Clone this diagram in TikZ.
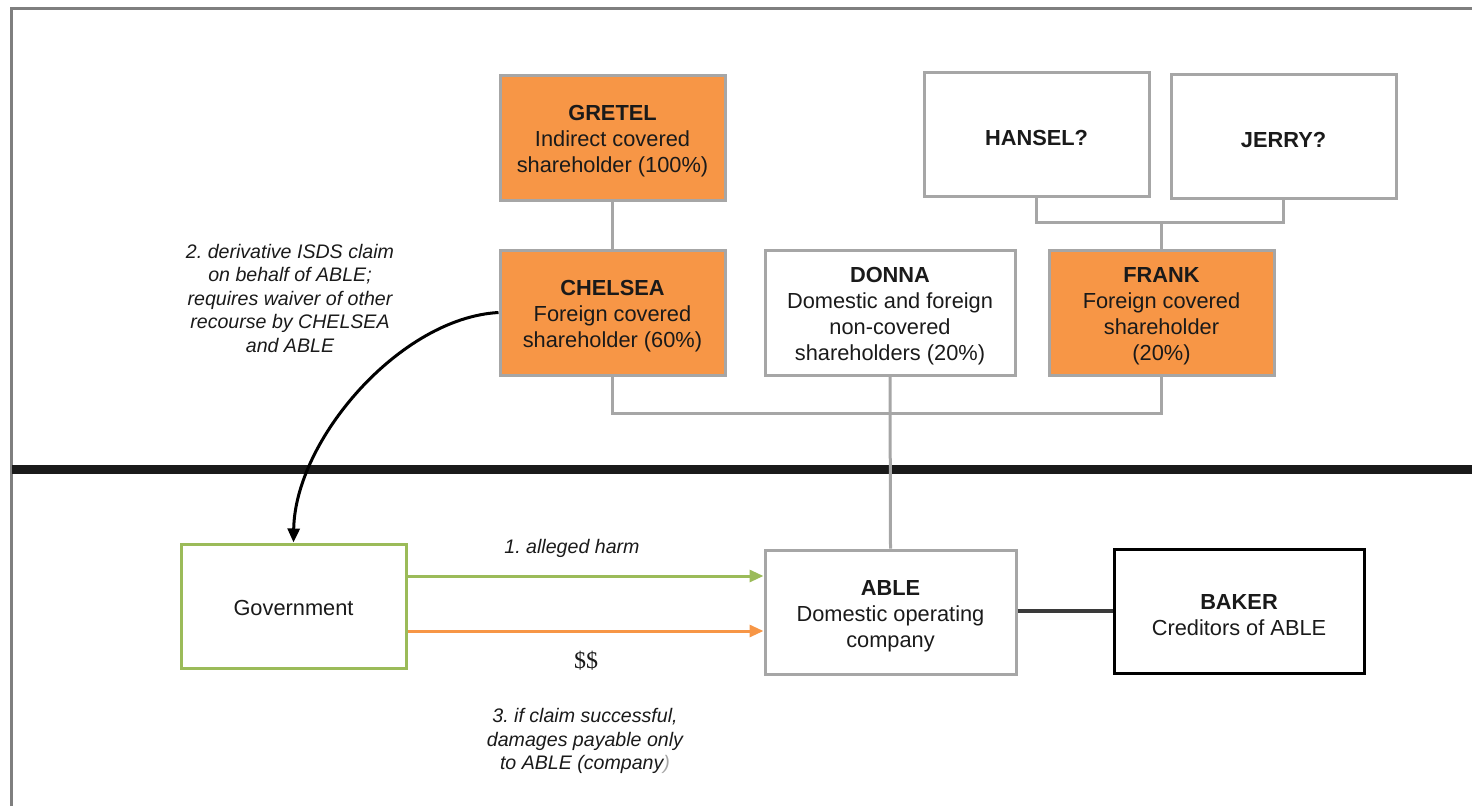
\documentclass[tikz,border=0pt]{standalone}
\usepackage{fontspec}
\setmainfont{Liberation Sans}
\newfontfamily\dollarfont{Liberation Serif}
\usetikzlibrary{arrows.meta}
\frenchspacing
\newcommand\toppad{\rule{0pt}{23.5pt}}
\definecolor{orfill}{HTML}{F79646}
\definecolor{bgray}{HTML}{A6A6A6}
\definecolor{fgray}{HTML}{7F7F7F}
\definecolor{ogreen}{HTML}{9BBB59}
\definecolor{txt}{HTML}{1A1A1A}
\definecolor{barblack}{HTML}{1A1A1A}
\definecolor{linkdark}{HTML}{3A3A3A}
\tikzset{
  boxfnt/.style={font=\fontsize{21.8pt}{26pt}\selectfont},
  lblfnt/.style={font=\fontsize{19.6pt}{23.5pt}\selectfont\itshape\frenchspacing},
  entity/.style={draw=bgray, line width=3pt, minimum width=225pt, minimum height=125pt,
    align=center, inner sep=0pt, text=txt, boxfnt},
  wideentity/.style={entity, minimum width=250pt},
  covered/.style={entity, fill=orfill},
  conn/.style={draw=bgray, line width=3pt},
  lbl/.style={align=center, text=txt, lblfnt, inner sep=0pt},
  tipA/.style={-{Triangle[length=14pt,width=12pt]}},
}
\begin{document}
\begin{tikzpicture}[x=1pt,y=-1pt]
\useasboundingbox (0,0) rectangle (1472,806);
% frame
\draw[fgray, line width=3pt] (11,806) -- (11,8) -- (1472,8);
% divider bar
\fill[barblack] (12,465) rectangle (1472,474);

% nodes
\node[covered] (gretel) at (612.5,137.5) {\toppad\textbf{GRETEL}\\Indirect covered\\shareholder (100\%)};
\node[entity, minimum height=124pt] (hansel) at (1036.5,134) {\toppad\textbf{HANSEL?}};
\node[entity, minimum height=124pt] (jerry) at (1283.5,136) {\toppad\textbf{JERRY?}};
\node[covered] (chelsea) at (612.5,312.5) {\toppad\textbf{CHELSEA}\\Foreign covered\\shareholder (60\%)};
\node[wideentity] (donna) at (890,312.5) {\toppad\textbf{DONNA}\\Domestic and foreign\\non-covered\\shareholders (20\%)};
\node[covered] (frank) at (1161.5,312.5) {\toppad\textbf{FRANK}\\Foreign covered\\shareholder\\(20\%)};
\node[entity, draw=ogreen, minimum height=124pt] (gov) at (293.5,606) {\rule{0pt}{19.5pt}Government};
\node[wideentity, minimum width=251pt, minimum height=124pt] (able) at (890.5,612) {\toppad\textbf{ABLE}\\Domestic operating\\company};
\node[wideentity, draw=black, minimum height=124pt] (baker) at (1239,611) {\toppad\textbf{BAKER}\\Creditors of ABLE};

% ownership connectors
\draw[conn] (gretel.south) -- (chelsea.north);
\coordinate (hj) at (1161.5,222);
\draw[conn] (hansel.south) |- (hj) -| (jerry.south);
\draw[conn] (hj) -- (frank.north);
\coordinate (cf) at (889,413);
\draw[conn] (chelsea.south) |- (cf) -| (frank.south);
\draw[conn] (donna.south) -- (able.north);
\draw[linkdark, line width=4pt] (able.east |- baker.west) -- (baker.west);

% arrows
\coordinate (g1) at ([yshift=30pt]gov.east);
\coordinate (g2) at ([yshift=-25pt]gov.east);
\draw[ogreen, line width=3pt, tipA] (g1) -- (able.west |- g1);
\draw[orfill, line width=3pt, tipA] (g2) -- (able.west |- g2);
\draw[black, line width=3pt, tipA] (chelsea.west) .. controls (400,318) and (295,440) .. (gov.north);

% labels
\node[lbl] (claim) at (290,298) {2. derivative ISDS claim\\on behalf of ABLE;\\requires waiver of other\\recourse by CHELSEA\\and ABLE};
\node[lbl] (harm) at (572,548) {1. alleged harm};
\node[text=txt, inner sep=0pt, font=\fontsize{24pt}{28pt}\selectfont\dollarfont] (dollars) at (586,661) {\$\$};
\node[lbl] (damages) at (585,741) {3. if claim successful,\\damages payable only\\to ABLE (company\textcolor{bgray}{)}};
\end{tikzpicture}
\end{document}
